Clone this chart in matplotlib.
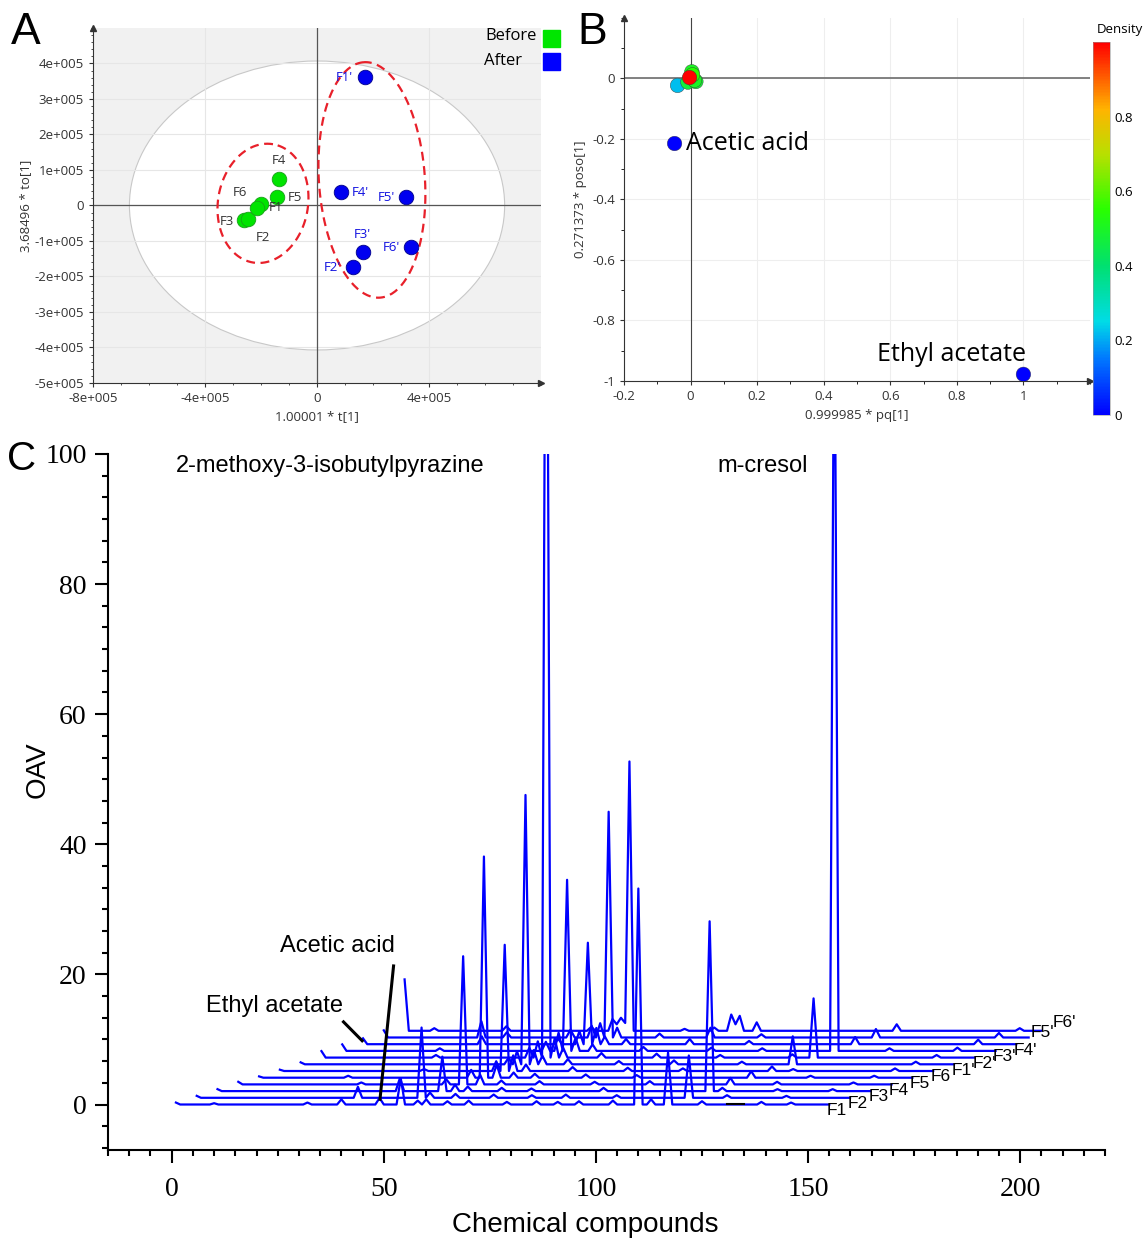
import numpy as np
import matplotlib.pyplot as plt
import matplotlib.ticker as mticker
from matplotlib.colors import LinearSegmentedColormap
from matplotlib.patches import Ellipse, Rectangle

plt.rcParams['font.family'] = ['Open Sans', 'DejaVu Sans']

# ---------------- panel A : score plot
BEFORE_NAMES = ["F1", "F2", "F3", "F4", "F5", "F6"]
BEFORE_T = [-2.00e5, -2.61e5, -2.46e5, -1.36e5, -1.43e5, -2.14e5]
BEFORE_TO = [0.03e5, -0.42e5, -0.39e5, 0.76e5, 0.23e5, -0.06e5]
AFTER_NAMES = ["F1'", "F2'", "F3'", "F4'", "F5'", "F6'"]
AFTER_T = [1.71e5, 1.30e5, 1.63e5, 0.86e5, 3.18e5, 3.36e5]
AFTER_TO = [3.61e5, -1.74e5, -1.32e5, 0.37e5, 0.23e5, -1.17e5]

# ---------------- panel B : loading plot coloured by density
B_PQ = [-0.048, 1.0, -0.039, 0.004, 0.012, -0.008, 0.016, 0.006, -0.003]
B_POSO = [-0.215, -0.978, -0.023, 0.022, -0.006, -0.012, -0.010, 0.012, 0.003]
B_DENSITY = [0.0, 0.0, 0.22, 0.50, 0.50, 0.47, 0.48, 0.55, 1.0]

# ---------------- panel C : OAV waterfall (compound number -> OAV, zero elsewhere)
SERIES_NAMES = ["F1", "F2", "F3", "F4", "F5", "F6",
                "F1'", "F2'", "F3'", "F4'", "F5'", "F6'"]
SERIES_LENGTHS = [155, 155, 155, 155, 155, 155, 155, 155, 155, 155, 153, 151]
SERIES_PEAKS = [
    {1: 0.3, 10: 0.2, 32: 0.3, 40: 0.8, 49: 1.0, 54: 4.0, 58: 0.6, 60: 0.8, 65: 0.5,
     70: 0.6, 79: 0.4, 86: 0.5, 91: 0.4, 96: 0.5, 104: 0.6, 110: 33.2, 113: 0.8,
     117: 8.0, 125: 0.5, 139: 0.4, 146: 0.3},
    {1: 0.3, 39: 1.7, 54: 10.8, 56: 0.8, 62: 0.6, 71: 0.5, 80: 0.4, 88: 0.5, 100: 0.4,
     117: 6.5, 126: 0.4, 140: 0.3},
    {1: 0.3, 44: 2.0, 54: 5.3, 57: 1.0, 60: 0.7, 68: 0.5, 75: 0.4, 92: 0.5, 117: 26.1,
     120: 0.5, 133: 0.3, 146: 0.3},
    {1: 0.4, 30: 0.3, 50: 0.8, 54: 19.7, 58: 1.5, 63: 0.6, 72: 0.5, 85: 0.4, 98: 0.5,
     117: 1.0, 128: 0.4, 146: 0.3},
    {1: 0.2, 22: 0.3, 51: 1.2, 54: 34.0, 57: 2.0, 61: 0.8, 66: 0.6, 78: 0.5, 90: 0.4,
     117: 1.0, 131: 0.3, 146: 0.3},
    {1: 0.2, 35: 0.3, 52: 1.5, 54: 19.4, 56: 2.4, 59: 1.0, 70: 0.6, 83: 0.5, 96: 0.4,
     117: 0.7, 122: 0.3, 146: 0.4},
    {1: 0.3, 50: 1.0, 52: 2.0, 54: 41.4, 56: 2.2, 58: 1.3, 64: 0.8, 76: 0.5, 89: 0.6,
     105: 0.4, 117: 4.3, 146: 0.4},
    {1: 1.0, 28: 0.4, 50: 1.5, 52: 2.5, 54: 158.0, 56: 3.0, 58: 1.5, 67: 0.7, 80: 0.6,
     95: 0.4, 112: 0.5, 117: 9.1, 146: 0.4},
    {1: 1.0, 24: 0.4, 49: 1.4, 52: 2.8, 54: 26.3, 56: 2.0, 60: 1.0, 72: 0.6, 88: 0.5,
     100: 0.4, 117: 123.0, 130: 0.4, 146: 0.5},
    {1: 0.9, 29: 1.2, 47: 0.8, 52: 2.0, 54: 15.6, 56: 2.5, 58: 1.2, 63: 0.8, 78: 0.8,
     92: 0.5, 117: 1.1, 146: 0.7},
    {1: 1.1, 24: 2.5, 30: 0.8, 45: 1.2, 50: 1.8, 52: 2.2, 54: 34.7, 56: 1.5, 66: 0.6,
     78: 1.5, 90: 0.5, 117: 1.3, 146: 0.7},
    {1: 7.9, 8: 0.4, 25: 0.7, 45: 0.6, 50: 1.8, 51: 1.0, 52: 2.0, 53: 1.2, 54: 41.4,
     67: 0.3, 74: 0.5, 78: 2.5, 79: 1.0, 80: 2.3, 84: 1.3, 117: 1.0, 146: 0.4},
]
DX = 4.9
DY = 1.03
LABEL_DY = [-0.9] * 10 + [0.75, 1.2]
LABEL_DX = [-0.6] * 10 + [0.4, 2.8]

GREEN = '#00e400'
BLUE = '#0000f0'
sans = ['Liberation Sans', 'DejaVu Sans']

fig = plt.figure(figsize=(11.47, 12.39), dpi=100)


def add_arrows(ax):
    ax.plot(0, 1, '^', transform=ax.transAxes, clip_on=False, ms=4, color='#333333')
    ax.plot(1, 0, '>', transform=ax.transAxes, clip_on=False, ms=4, color='#333333')


def tilted_ellipse(ax, cx, cy, a, b, deg, sx, sy, **kw):
    # a, b and angle in screen pixels, sx/sy = pixels per data unit
    t = np.linspace(0, 2 * np.pi, 200)
    th = np.deg2rad(deg)
    u = a * np.cos(t)
    v = b * np.sin(t)
    px = u * np.cos(th) - v * np.sin(th)
    py = u * np.sin(th) + v * np.cos(th)
    ax.plot(cx + px / sx, cy + py / sy, **kw)


# ================= A
axA = fig.add_axes([0.0811, 0.6909, 0.3906, 0.2865])
axA.set_facecolor('#f1f1f1')
axA.set_xlim(-8e5, 8e5)
axA.set_ylim(-5e5, 5e5)
axA.add_patch(Ellipse((0, 0), 2 * 6.7e5, 2 * 4.07e5, facecolor='white',
                      edgecolor='#c8c8c8', lw=0.8, zorder=1))
for yy in np.arange(-4e5, 5e5, 1e5):
    axA.axhline(yy, color='#e6e6e6', lw=0.8, zorder=1.5)
for xx in [-4e5, 4e5]:
    axA.axvline(xx, color='#e6e6e6', lw=0.8, zorder=1.5)
axA.axhline(0, color='#555555', lw=0.9, zorder=2)
axA.axvline(0, color='#555555', lw=0.9, zorder=2)

sxA = 28.0 / 1e5
syA = 35.5 / 1e5
tilted_ellipse(axA, -1.93e5, 0.06e5, 60, 45, 80.4, sxA, syA,
               color='#e8202a', ls=(0, (4, 2.5)), lw=1.6, zorder=3)
tilted_ellipse(axA, 1.96e5, 0.72e5, 118, 53, 93.9, sxA, syA,
               color='#e8202a', ls=(0, (4, 2.5)), lw=1.6, zorder=3)

axA.scatter(BEFORE_T, BEFORE_TO, s=110, color=GREEN, edgecolors='#1aa01a',
            linewidths=0.6, zorder=4)
axA.scatter(AFTER_T, AFTER_TO, s=110, color=BLUE, edgecolors='#00008a',
            linewidths=0.6, zorder=4)

before_off = [(15, -3), (19, -17), (-21, -2), (0, 18), (18, 0), (-17, 15)]
after_off = [(-21, 0), (-21, 0), (0, 18), (19, 0), (-20, 0), (-20, 0)]
for name, x, y, off in zip(BEFORE_NAMES, BEFORE_T, BEFORE_TO, before_off):
    axA.annotate(name, (x, y), xytext=off, textcoords='offset pixels',
                 ha='center', va='center', fontsize=9.5, color='#333333', zorder=5)
for name, x, y, off in zip(AFTER_NAMES, AFTER_T, AFTER_TO, after_off):
    axA.annotate(name, (x, y), xytext=off, textcoords='offset pixels',
                 ha='center', va='center', fontsize=9.5, color='#1010e0', zorder=5)

axA.set_xticks([-8e5, -4e5, 0, 4e5])
axA.set_xticklabels(['-8e+005', '-4e+005', '0', '4e+005'])
yt = np.arange(-5e5, 4.1e5, 1e5)
axA.set_yticks(yt)
axA.set_yticklabels(['0' if abs(v) < 1 else '%de+005' % round(v / 1e5) for v in yt])
axA.xaxis.set_minor_locator(mticker.MultipleLocator(1e5))
axA.yaxis.set_minor_locator(mticker.MultipleLocator(2e4))
axA.tick_params(labelsize=9.5, colors='#333333', length=3, width=0.8)
axA.tick_params(which='minor', length=1.5, width=0.6, colors='#333333')
for s in ['top', 'right']:
    axA.spines[s].set_visible(False)
for s in ['left', 'bottom']:
    axA.spines[s].set_color('#333333')
    axA.spines[s].set_linewidth(0.8)
add_arrows(axA)
axA.set_xlabel('1.00001 * t[1]', fontsize=9.5, color='#333333', labelpad=4)
axA.set_ylabel('3.68496 * to[1]', fontsize=9.5, color='#333333', labelpad=2)

# legend A
fig.text(537 / 1147, 1 - 36 / 1239, 'Before', ha='right', va='center', fontsize=12)
fig.text(522 / 1147, 1 - 61 / 1239, 'After', ha='right', va='center', fontsize=12)
fig.patches.append(Rectangle((543 / 1147, 1 - 47 / 1239), 17 / 1147, 17 / 1239,
                             transform=fig.transFigure, color='#00e600'))
fig.patches.append(Rectangle((543 / 1147, 1 - 70 / 1239), 17 / 1147, 17 / 1239,
                             transform=fig.transFigure, color='#0000ff'))

# ================= B
axB = fig.add_axes([0.544, 0.6925, 0.4063, 0.293])
axB.set_xlim(-0.2, 1.2)
axB.set_ylim(-1.0, 0.2)
axB.grid(color='#eeeeee', lw=0.8)
axB.set_axisbelow(True)
axB.axhline(0, color='#777777', lw=1.3, zorder=1)
axB.axvline(0, color='#444444', lw=0.8, zorder=1)

dens_cmap = LinearSegmentedColormap.from_list(
    'density', [(0.0, '#0000ff'), (0.15, '#0078ff'), (0.25, '#00dce6'),
                (0.4, '#00e070'), (0.55, '#28ff00'), (0.7, '#b8e000'),
                (0.82, '#ffb400'), (1.0, '#ff0000')])
order = np.argsort(B_DENSITY)
sc = axB.scatter(np.array(B_PQ)[order], np.array(B_POSO)[order], s=110,
                 c=np.array(B_DENSITY)[order], cmap=dens_cmap, vmin=0, vmax=1,
                 edgecolors='#3a3a3a', linewidths=0.3, zorder=3)
axB.text(-0.013, -0.215, 'Acetic acid', fontsize=18, va='center', ha='left')
axB.text(1.008, -0.912, 'Ethyl acetate', fontsize=18, va='center', ha='right')

axB.set_xticks(np.arange(-0.2, 1.01, 0.2))
axB.set_xticklabels(['-0.2', '0', '0.2', '0.4', '0.6', '0.8', '1'])
axB.set_yticks(np.arange(-1.0, 0.01, 0.2))
axB.set_yticklabels(['-1', '-0.8', '-0.6', '-0.4', '-0.2', '0'])
axB.xaxis.set_minor_locator(mticker.MultipleLocator(0.1))
axB.yaxis.set_minor_locator(mticker.MultipleLocator(0.1))
axB.tick_params(labelsize=9.5, colors='#333333', length=3, width=0.8)
axB.tick_params(which='minor', length=2, width=0.6)
for s in ['top', 'right']:
    axB.spines[s].set_visible(False)
for s in ['left', 'bottom']:
    axB.spines[s].set_color('#333333')
    axB.spines[s].set_linewidth(0.8)
add_arrows(axB)
axB.set_xlabel('0.999985 * pq[1]', fontsize=9.5, color='#333333', labelpad=4)
axB.set_ylabel('0.271373 * poso[1]', fontsize=9.5, color='#333333', labelpad=4)

cax = fig.add_axes([0.9529, 0.665, 0.0148, 0.301])
cb = fig.colorbar(sc, cax=cax, ticks=[0, 0.2, 0.4, 0.6, 0.8])
cb.ax.set_yticklabels(['0', '0.2', '0.4', '0.6', '0.8'])
cb.ax.tick_params(labelsize=9.5, length=0, pad=3)
cb.outline.set_linewidth(0.4)
cb.outline.set_edgecolor('#999999')
fig.text(1120 / 1147, 1 - 30 / 1239, 'Density', ha='center', va='center', fontsize=9.5)

# panel letters
for lab, x, y, fs in [('A', 26, 32, 32), ('B', 592, 32, 32), ('C', 22, 459, 29)]:
    fig.text(x / 1147, 1 - y / 1239, lab, fontsize=fs, ha='center', va='center',
             family=sans)

# ================= C
axC = fig.add_axes([0.0942, 0.0718, 0.8692, 0.5618])
axC.set_xlim(-15, 220)
axC.set_ylim(-7, 100)
for n, (name, peaks, length) in enumerate(zip(SERIES_NAMES, SERIES_PEAKS, SERIES_LENGTHS)):
    comp = np.arange(1, length + 1)
    oav = np.zeros(length)
    for k, val in peaks.items():
        oav[k - 1] = val
    axC.plot(comp + n * DX, oav + n * DY, color='#0000ff', lw=1.6, zorder=3)
    axC.text(length + n * DX + LABEL_DX[n], n * DY + LABEL_DY[n], name,
             fontsize=12.5, ha='left', va='center', family=sans, zorder=4)

axC.plot([131, 134.8], [0.15, 0.15], color='black', lw=1.5, zorder=4)

axC.text(0.9, 98.2, '2-methoxy-3-isobutylpyrazine', fontsize=17, va='center',
         family=sans)
axC.text(128.7, 98.2, 'm-cresol', fontsize=17, va='center', family=sans)
axC.text(8.2, 15.2, 'Ethyl acetate', fontsize=17, va='center', family=sans)
axC.plot([40.5, 44.9], [12.7, 9.8], color='black', lw=2.2, zorder=5)
axC.text(25.6, 24.3, 'Acetic acid', fontsize=17, va='center', family=sans)
axC.plot([52.3, 49.1], [21.3, 0.8], color='black', lw=2.2, zorder=5)

axC.set_xticks([0, 50, 100, 150, 200])
axC.set_yticks([0, 20, 40, 60, 80, 100])
axC.xaxis.set_minor_locator(mticker.MultipleLocator(5))
axC.yaxis.set_minor_locator(mticker.MultipleLocator(20 / 6))
axC.tick_params(which='major', length=9.5, width=1.5, labelsize=20, direction='out')
axC.tick_params(axis='x', which='major', pad=10)
axC.tick_params(axis='y', which='major', pad=6)
axC.tick_params(which='minor', length=4.5, width=1.5, direction='out')
for lbl in axC.get_xticklabels() + axC.get_yticklabels():
    lbl.set_family(['Liberation Serif', 'DejaVu Serif'])
for s in ['top', 'right']:
    axC.spines[s].set_visible(False)
for s in ['left', 'bottom']:
    axC.spines[s].set_linewidth(1.5)

fig.text(585 / 1147, 1 - 1225 / 1239, 'Chemical compounds', ha='center', va='center',
         fontsize=20, family=sans)
fig.text(38 / 1147, 1 - 770 / 1239, 'OAV', ha='center', va='center', rotation=90,
         fontsize=20, family=sans)

fig.savefig('out.png', dpi=100)
